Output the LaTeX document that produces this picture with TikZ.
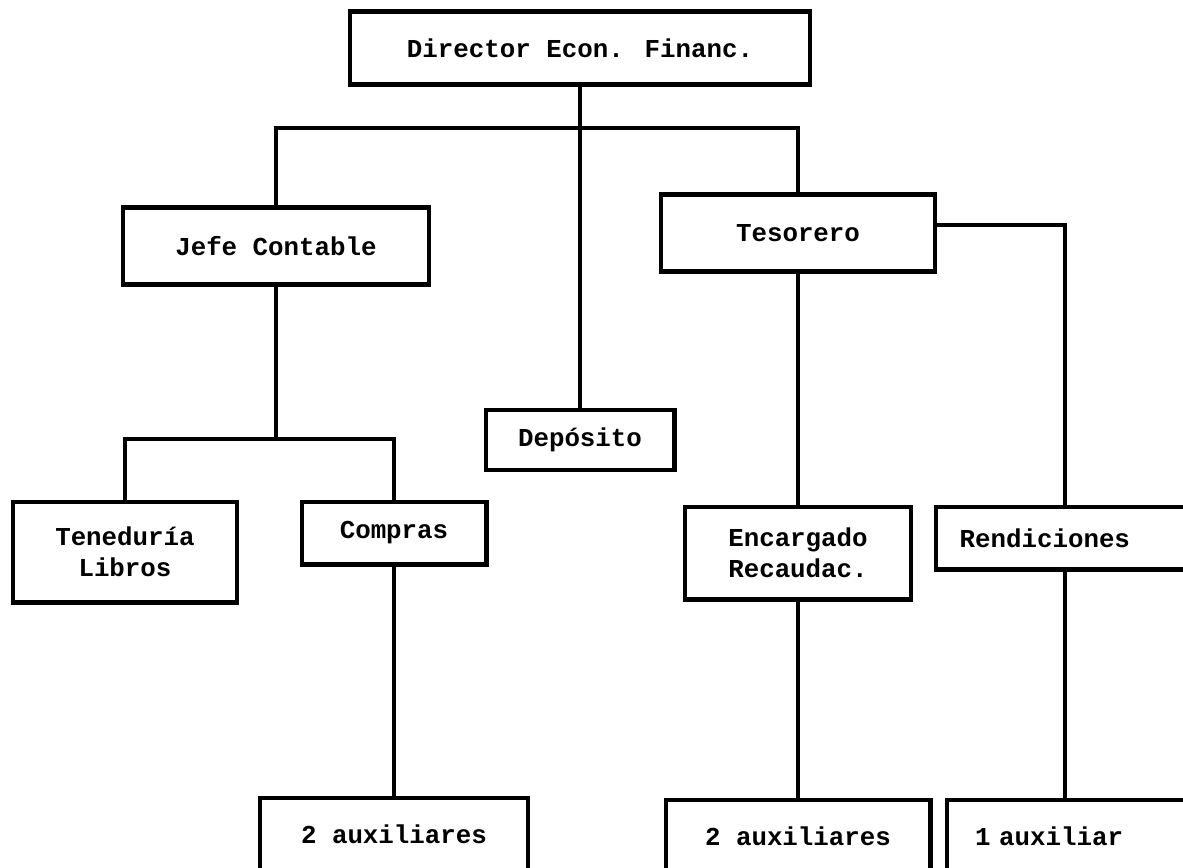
\documentclass[tikz,border=0pt]{standalone}
\usepackage{fontspec}
\setmainfont{Liberation Mono}

\begin{document}
\begin{tikzpicture}[x=0.02cm, y=-0.02cm,
  caja/.style={rectangle, draw=black, line width=2.3pt, inner sep=0pt, align=center, font=\fontsize{14.7}{17.5}\selectfont\bfseries},
  cajabaja/.style={caja, minimum height=1.68cm, text depth=0.25cm},
  linea/.style={draw=black, line width=1.8pt}]
\useasboundingbox (0,0) rectangle (1183,867);
\node[caja, minimum width=9.2cm, minimum height=1.46cm]  (director)   at (580,48)    {Director Econ. Financ.};
\node[caja, minimum width=6.14cm, minimum height=1.54cm] (contable)   at (276,246)   {Jefe Contable};
\node[caja, minimum width=5.48cm, minimum height=1.54cm] (tesorero)   at (798,233)   {Tesorero};
\node[caja, minimum width=3.78cm, minimum height=1.2cm]  (deposito)   at (580,440)   {Depósito};
\node[caja, minimum width=4.48cm, minimum height=2.02cm] (teneduria)  at (125,552)   {Teneduría\\Libros};
\node[caja, minimum width=3.7cm, minimum height=1.26cm]  (compras)    at (394,533)   {Compras};
\node[caja, minimum width=4.52cm, minimum height=1.86cm] (recaudac)   at (798,553)   {Encargado\\Recaudac.};
\node[caja, minimum width=5.18cm, minimum height=1.26cm, text width=4.22cm, align=left] (rendic) at (1065,538) {Rendiciones};
\node[cajabaja, minimum width=5.36cm] (auxcompras) at (394,840)   {2 auxiliares};
\node[cajabaja, minimum width=5.3cm]  (auxrecaud)  at (798,842)   {2 auxiliares};
\node[cajabaja, minimum width=5.12cm, text width=4cm, align=left] (auxrendic) at (1075,842) {1 auxiliar};
\coordinate (barra)  at (580,128);
\coordinate (barra2) at (276,439);
\draw[linea] (director) -- (deposito);
\draw[linea] (contable.north) |- (barra) -| (tesorero.north);
\draw[linea] (contable) -- (barra2);
\draw[linea] (teneduria.north) |- (barra2) -| (compras.north);
\draw[linea] (compras) -- (auxcompras);
\draw[linea] (tesorero) -- (recaudac);
\draw[linea] (recaudac) -- (auxrecaud);
\draw[linea] ([yshift=0.16cm]tesorero.east) -| (rendic.north);
\draw[linea] (rendic.south) -- (rendic.south |- auxrendic.north);
\end{tikzpicture}
\end{document}
